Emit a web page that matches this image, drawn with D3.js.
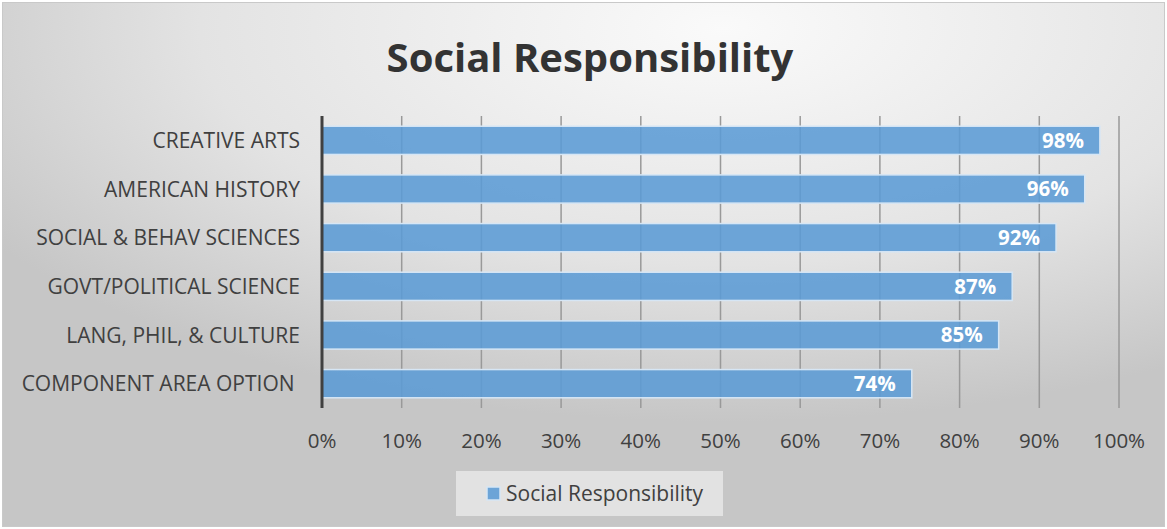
<!DOCTYPE html>
<html>
<head>
<meta charset="utf-8">
<script src="https://cdn.jsdelivr.net/npm/d3@7"></script>
<style>
  body { margin: 0; background: #fff; }
  text { font-family: "Open Sans", "Noto Sans", sans-serif; }
</style>
</head>
<body>
<svg id="chart" width="1167" height="529"></svg>
<script>
const categories = [
  "CREATIVE ARTS",
  "AMERICAN HISTORY",
  "SOCIAL & BEHAV SCIENCES",
  "GOVT/POLITICAL SCIENCE",
  "LANG, PHIL, & CULTURE",
  "COMPONENT AREA OPTION ",
];
const values = [0.976, 0.957, 0.921, 0.866, 0.849, 0.74];
const ticks = [0, 0.1, 0.2, 0.3, 0.4, 0.5, 0.6, 0.7, 0.8, 0.9, 1.0];
const seriesName = "Social Responsibility";

function drawChart() {
  const svg = d3.select("#chart");
  const width = 1167;
  const height = 529;

  // background gradient
  const defs = svg.append("defs");
  const grad = defs
    .append("radialGradient")
    .attr("id", "bg")
    .attr("cx", "62%")
    .attr("cy", "5%")
    .attr("r", "75%");
  grad.append("stop").attr("offset", "0%").attr("stop-color", "#fafafa");
  grad.append("stop").attr("offset", "60%").attr("stop-color", "#e3e3e3");
  grad.append("stop").attr("offset", "100%").attr("stop-color", "#c6c6c6");

  svg
    .append("rect")
    .attr("x", 2.5)
    .attr("y", 2.5)
    .attr("width", width - 5)
    .attr("height", height - 5)
    .attr("fill", "url(#bg)")
    .attr("stroke", "#c9c9c9")
    .attr("stroke-width", 1);

  const margin = { left: 322, right: 48, top: 116, bottom: 121 };

  const x = d3
    .scaleLinear()
    .domain([0, 1])
    .range([margin.left, width - margin.right]);

  const y = d3
    .scaleBand()
    .domain(categories)
    .range([margin.top, height - margin.bottom])
    .paddingInner(0.42)
    .paddingOuter(0.21);

  const pct = d3.format(".0%");

  // title
  svg
    .append("text")
    .attr("x", 590)
    .attr("y", 72)
    .attr("text-anchor", "middle")
    .attr("font-size", 40)
    .attr("font-weight", "bold")
    .attr("fill", "#333")
    .text("Social Responsibility");

  // vertical gridlines
  svg
    .append("g")
    .selectAll("line")
    .data(ticks.slice(1))
    .enter()
    .append("line")
    .attr("x1", (d) => x(d))
    .attr("x2", (d) => x(d))
    .attr("y1", margin.top)
    .attr("y2", height - margin.bottom)
    .attr("stroke", "#999")
    .attr("stroke-width", 1.5);

  // bars
  svg
    .append("g")
    .selectAll("rect")
    .data(values)
    .enter()
    .append("rect")
    .attr("x", x(0))
    .attr("y", (d, i) => y(categories[i]))
    .attr("width", (d) => x(d) - x(0))
    .attr("height", y.bandwidth())
    .attr("fill", "#5b9bd5")
    .attr("fill-opacity", 0.88)
    .attr("stroke", "#d6e6f5")
    .attr("stroke-width", 1.5);

  // value labels
  svg
    .append("g")
    .selectAll("text")
    .data(values)
    .enter()
    .append("text")
    .attr("x", (d) => x(d) - 16)
    .attr("y", (d, i) => y(categories[i]) + y.bandwidth() / 2)
    .attr("dy", "0.36em")
    .attr("text-anchor", "end")
    .attr("font-size", 20.5)
    .attr("font-weight", "bold")
    .attr("fill", "#fff")
    .text((d) => pct(d));

  // y axis line
  svg
    .append("line")
    .attr("x1", x(0))
    .attr("x2", x(0))
    .attr("y1", margin.top)
    .attr("y2", height - margin.bottom)
    .attr("stroke", "#404040")
    .attr("stroke-width", 3);

  // category labels
  svg
    .append("g")
    .selectAll("text")
    .data(categories)
    .enter()
    .append("text")
    .attr("x", 300)
    .attr("y", (d) => y(d) + y.bandwidth() / 2)
    .attr("dy", "0.36em")
    .attr("text-anchor", "end")
    .attr("font-size", 21)
    .attr("fill", "#404040")
    .style("white-space", "pre")
    .text((d) => d);

  // x tick labels
  svg
    .append("g")
    .selectAll("text")
    .data(ticks)
    .enter()
    .append("text")
    .attr("x", (d) => x(d))
    .attr("y", 448)
    .attr("text-anchor", "middle")
    .attr("font-size", 20.5)
    .attr("fill", "#404040")
    .text((d) => pct(d));

  // legend
  const legend = svg.append("g");
  legend
    .append("rect")
    .attr("x", 456)
    .attr("y", 471)
    .attr("width", 267)
    .attr("height", 45)
    .attr("fill", "#e8e8e8")
    .attr("fill-opacity", 0.8);
  legend
    .append("rect")
    .attr("x", 487)
    .attr("y", 487)
    .attr("width", 13)
    .attr("height", 13)
    .attr("fill", "#5b9bd5")
    .attr("fill-opacity", 0.88)
    .attr("stroke", "#d6e6f5")
    .attr("stroke-width", 1.5);
  legend
    .append("text")
    .attr("x", 506)
    .attr("y", 501)
    .attr("font-size", 21)
    .attr("fill", "#404040")
    .text(seriesName);
}

drawChart();
</script>
</body>
</html>
